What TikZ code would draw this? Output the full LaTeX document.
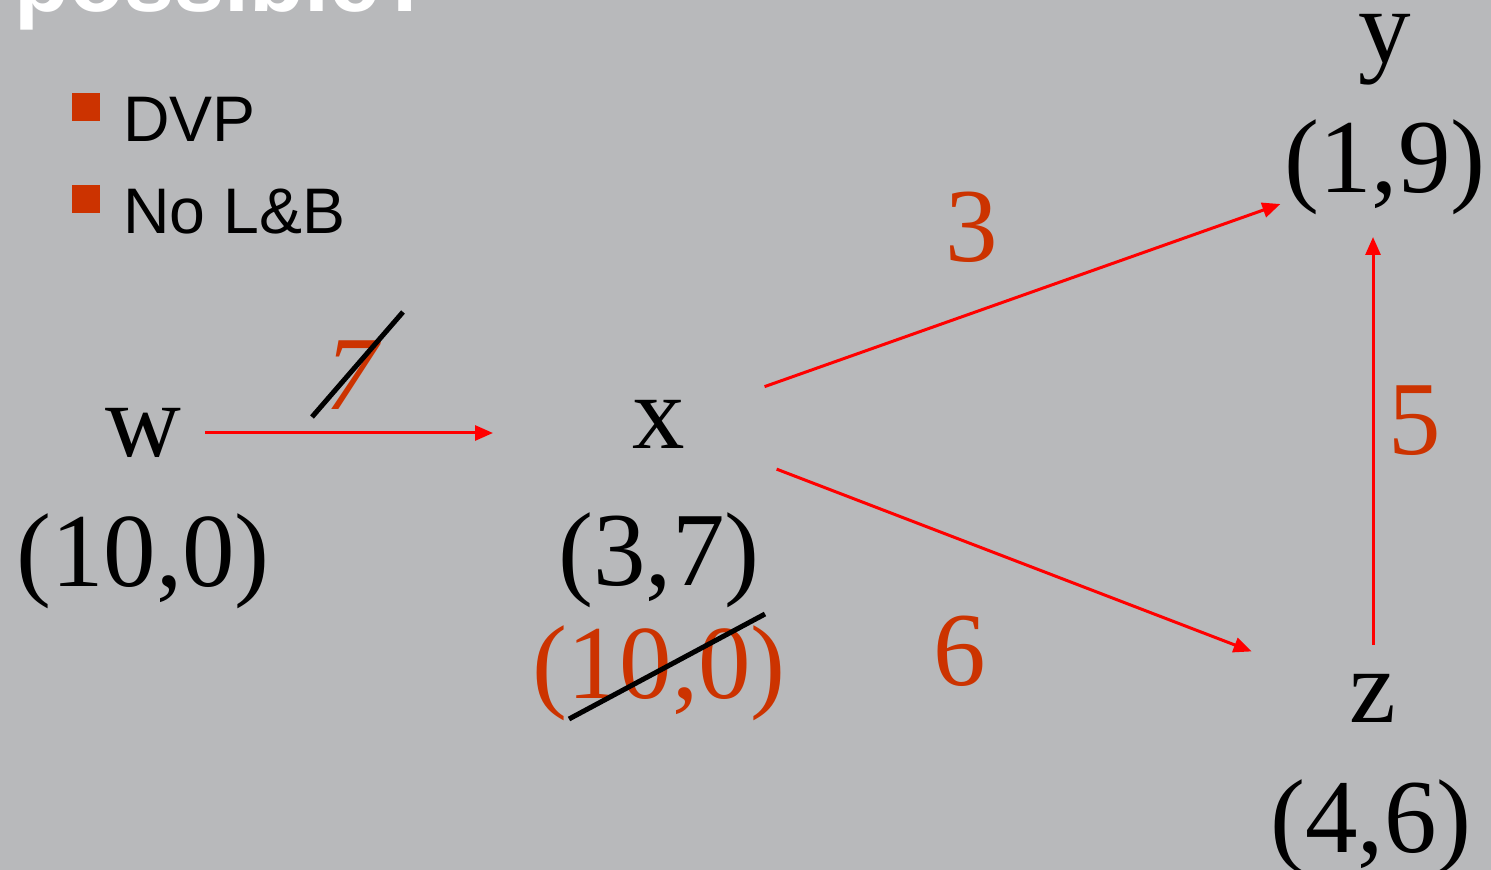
\documentclass[tikz,border=0pt]{standalone}
\usepackage{fontspec}
\setmainfont{Liberation Serif}
\newfontfamily\slidesans{Liberation Sans}
\usepackage{xcolor}
\definecolor{slidebg}{RGB}{184,185,187}
\definecolor{rust}{RGB}{204,51,0}
\usepackage{tikz}
\usetikzlibrary{arrows.meta, positioning, calc}

\begin{document}
\begin{tikzpicture}[
    x=0.5pt, y=-0.5pt,
    vert/.style={inner sep=0pt, font=\fontsize{52.5}{60}\selectfont},
    val/.style={vert, anchor=base},
    wt/.style={vert, anchor=base, text=rust},
    bul/.style={fill=rust, minimum size=14pt, inner sep=0pt, anchor=north west},
    item/.style={inner sep=0pt, anchor=base west, font=\slidesans\fontsize{32.2}{36}\selectfont},
    arr/.style={-{Triangle[length=9pt, width=7.5pt]}, red, line width=1.5pt},
    strike/.style={black, line width=2.5pt}
]
    \fill[slidebg] (0,0) rectangle (1491,870);
    \useasboundingbox (0,0) rectangle (1491,870);

    % title, cut off at the top
    \node[inner sep=0pt, anchor=base west, text=white,
          font=\slidesans\bfseries\fontsize{45}{50}\selectfont] (title) at (14,12) {possible?};

    % bullets
    \node[bul] (b1) at (72,93) {};
    \node[bul] (b2) at (72,185) {};
    \node[item] (dvp) at (123,142) {DVP};
    \node[item] (nolb) at (123,234) {No L\&B};

    % vertices
    \node[vert] (w) at (143,433) {w};
    \node[val] (wval) at (143,586) {(10,0)};
    \node[vert] (x) at (659,424) {x};
    \node[val] (xval) at (659,585) {(3,7)};
    \node[wt] (xold) at (659,698) {(10,0)};
    \node[val] (y) at (1385,63) {y};
    \node[vert] (yval) at (1385,167) {(1,9)};
    \node[vert] (z) at (1373,698) {z};
    \node[val] (zval) at (1371,852) {(4,6)};

    % weights
    \node[wt, font=\fontsize{52.5}{60}\selectfont\itshape] (w7) at (352,410) {7};
    \node[wt] (w3) at (972,262) {3};
    \node[wt] (w5) at (1415,455) {5};
    \node[wt] (w6) at (960,685) {6};

    % edges
    \draw[arr, shorten <=31pt, shorten >=83pt] (w.center) -- (w -| x);
    \draw[arr, shorten <=56pt, shorten >=55.5pt] (x.center) -- (yval.center);
    \draw[arr, shorten <=63pt, shorten >=65pt] (x.center) -- (z.center);
    \draw[arr, shorten <=26.5pt, shorten >=35pt] (z.center) -- (z |- yval);

    % crossed out
    \draw[strike] (312,417) -- (403,312);
    \draw[strike] (569,719) -- (765,614);
\end{tikzpicture}
\end{document}
